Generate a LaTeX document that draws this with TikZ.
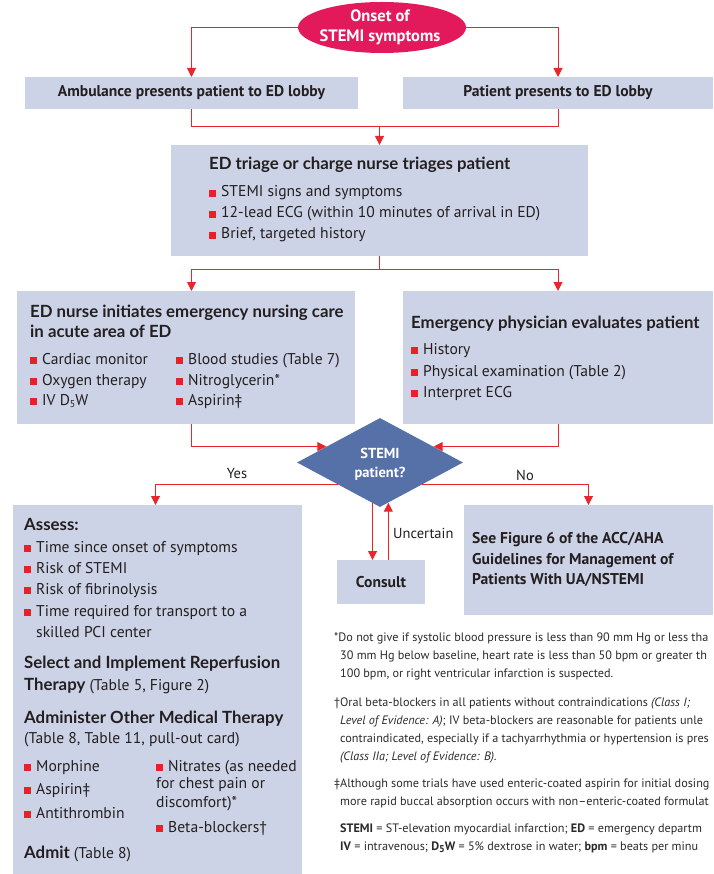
\documentclass[tikz,border=0pt]{standalone}
\usepackage{fontspec}
\setmainfont{PT Sans}
\newfontfamily\headfont{Lato}
\usetikzlibrary{arrows.meta,shapes.geometric,calc,fit}

\definecolor{boxfill}{HTML}{CDD3E6}
\definecolor{linered}{HTML}{E8262D}
\definecolor{bulred}{HTML}{E8202A}
\definecolor{onsetfill}{HTML}{E21A5C}
\definecolor{decidefill}{HTML}{5671A8}
\definecolor{ink}{HTML}{231F20}
\definecolor{noteink}{HTML}{2A2A2A}

% red square bullet
\newcommand\bul{{\color{bulred}\rule{7pt}{7pt}}\hspace{5pt}}
% heavy heading words
\newcommand\hd[1]{{\headfont\fontsize{16.8}{18}\selectfont\bfseries #1}}
% small lowered subscript
\newcommand\lowsub[1]{\raisebox{-2.5pt}{\fontsize{10}{10}\selectfont #1}}
% one line of text, placed on its baseline
\newcommand\putline[4]{\node[txt] (#1) at (#2,#3) {#4};}
\newcommand\putnote[4]{\node[notetxt] (#1) at (#2,#3) {#4};}
% a filled box spanning two corners
\newcommand\putbox[5]{\node[boxstyle,fit={(#2,#3) (#4,#5)}] (#1) {};}

\tikzset{
  boxstyle/.style={fill=boxfill,draw=none,inner sep=0pt,outer sep=0pt},
  txt/.style={anchor=base west,inner sep=0pt,text=ink,font=\fontsize{15.6}{18}\selectfont},
  notetxt/.style={anchor=base west,inner sep=0pt,text=noteink,font=\fontsize{12.2}{15}\selectfont},
  whitetxt/.style={anchor=base,inner sep=0pt,text=white,font=\fontsize{16.5}{18}\selectfont\bfseries},
  conn/.style={draw=linered,line width=1pt},
  arr/.style={conn,-{Triangle[length=9pt,width=9pt]}},
}

\begin{document}
\begin{tikzpicture}[x=1pt,y=-1pt]
\useasboundingbox (0,0) rectangle (713,874);

% start of the pathway
\node[ellipse,fill=onsetfill,draw=none,minimum width=168pt,minimum height=51pt,inner sep=0pt] (onset) at (382,27.5) {};
\node[whitetxt] (onset1) at (380,22) {Onset of};
\node[whitetxt] (onset2) at (380,42) {STEMI symptoms};

% arrival
\putbox{amb}{25}{77}{358}{109}
\putbox{pat}{403}{77}{713}{109}
\node[txt,anchor=base,font=\fontsize{15.6}{18}\selectfont\bfseries] (ambt) at (amb.center |- 0,97) {Ambulance presents patient to ED lobby};
\node[txt,anchor=base,font=\fontsize{15.6}{18}\selectfont\bfseries] (patt) at (558,97) {Patient presents to ED lobby};

% triage
\putbox{triage}{171}{145}{588}{256}
\putline{tr0}{209}{170}{\hd{ED triage or charge nurse triages patient}}
\putline{tr1}{209}{197}{\bul STEMI signs and symptoms}
\putline{tr2}{209}{218}{\bul 12-lead ECG (within 10 minutes of arrival in ED)}
\putline{tr3}{209}{239}{\bul Brief, targeted history}

% nursing care
\putbox{nurse}{17}{291}{355}{424}
\putline{nu0}{30}{317}{\hd{ED nurse initiates emergency nursing care}}
\putline{nu1}{30}{337}{\hd{in acute area of ED}}
\putline{nu2}{30}{364}{\bul Cardiac monitor}
\putline{nu3}{30}{385}{\bul Oxygen therapy}
\putline{nu4}{30}{405}{\bul IV D\lowsub{5}W}
\putline{nu5}{176}{364}{\bul Blood studies (Table 7)}
\putline{nu6}{176}{385}{\bul Nitroglycerin*}
\putline{nu7}{176}{405}{\bul Aspirin‡}

% physician
\putbox{phys}{403}{291}{713}{424}
\putline{ph0}{411}{328}{\hd{Emergency physician evaluates patient}}
\putline{ph1}{411}{354}{\bul History}
\putline{ph2}{411}{376}{\bul Physical examination (Table 2)}
\putline{ph3}{411}{397}{\bul Interpret ECG}

% decision
\node[diamond,fill=decidefill,draw=none,minimum width=166pt,minimum height=89pt,inner sep=0pt] (dia) at (380,462.5) {};
\node[whitetxt,font=\fontsize{14.5}{16}\selectfont\bfseries] (dia1) at (380,458) {STEMI};
\node[whitetxt,font=\fontsize{14.5}{16}\selectfont\bfseries] (dia2) at (380,477) {patient?};

% outcomes
\putbox{assess}{13}{505}{302}{874}
\putbox{consult}{337}{560}{425}{604}
\putbox{see}{464}{505}{713}{615}

\node[txt,anchor=base,font=\fontsize{15.6}{18}\selectfont\bfseries] (cot) at (381,587) {Consult};
\putline{se1}{472}{543}{\bfseries See Figure 6 of the ACC/AHA}
\putline{se2}{472}{564}{\bfseries Guidelines for Management of}
\putline{se3}{472}{584}{\bfseries Patients With UA/NSTEMI}

\putline{as0}{24}{530}{\hd{Assess:}}
\putline{as1}{24}{552}{\bul Time since onset of symptoms}
\putline{as2}{24}{573}{\bul Risk of STEMI}
\putline{as3}{24}{594}{\bul Risk of fibrinolysis}
\putline{as4}{24}{616}{\bul Time required for transport to a}
\putline{as5}{36}{637}{skilled PCI center}
\putline{as6}{24}{668}{\hd{Select and Implement Reperfusion}}
\putline{as7}{24}{690}{\hd{Therapy} (Table 5, Figure 2)}
\putline{as8}{24}{723}{\hd{Administer Other Medical Therapy}}
\putline{as9}{24}{743}{(Table 8, Table 11, pull-out card)}
\putline{as10}{24}{771}{\bul Morphine}
\putline{as11}{24}{794}{\bul Aspirin‡}
\putline{as12}{24}{818}{\bul Antithrombin}
\putline{as13}{156}{771}{\bul Nitrates (as needed}
\putline{as14}{156}{788}{for chest pain or}
\putline{as15}{156}{807}{discomfort)*}
\putline{as16}{156}{832}{\bul Beta-blockers†}
\putline{as17}{24}{858}{\hd{Admit} (Table 8)}

% connectors
\draw[arr] (onset.west) -| (amb.north);
\draw[arr] (onset.east) -| (pat.north);
\coordinate (j1) at (triage.north |- 0,127);
\draw[conn] (amb.south) |- (j1);
\draw[conn] (pat.south) |- (j1);
\draw[arr] (j1) -- (triage.north);
\coordinate (j2) at (triage.south |- 0,270);
\draw[conn] (triage.south) -- (j2);
\draw[arr] (j2) -| (amb.south |- nurse.north);
\draw[arr] (j2) -| (phys.north);
\coordinate (dl) at ($(dia.west)!0.356!(dia.north)$);
\coordinate (dr) at ($(dia.east)!0.356!(dia.north)$);
\draw[arr] (nurse.south -| amb.south) |- (dl);
\draw[arr] (phys.south) |- (dr);
\draw[arr] (dia.south west) -| ([xshift=-2pt]assess.north);
\draw[arr] (dia.south east) -| (see.north);
\coordinate (ud) at ($(dia.south)!0.09!(dia.west)$);
\coordinate (uu) at ($(dia.south)!0.1!(dia.east)$);
\draw[arr] (ud) -- (ud |- consult.north);
\draw[arr] (uu |- consult.north) -- (uu);

\node[txt,anchor=base,font=\fontsize{14.5}{16}\selectfont] (yes) at (237,478) {Yes};
\node[txt,anchor=base,font=\fontsize{14.5}{16}\selectfont] (no) at (525,480) {No};
\node[txt,font=\fontsize{14.5}{16}\selectfont] (unc) at (393,538) {Uncertain};

% footnotes, running off the right edge
\putnote{f1}{334}{641}{*Do not give if systolic blood pressure is less than 90 mm Hg or less tha}
\putnote{f2}{340}{659}{30 mm Hg below baseline, heart rate is less than 50 bpm or greater th}
\putnote{f3}{340}{677}{100 bpm, or right ventricular infarction is suspected.}
\putnote{f4}{334}{706}{†Oral beta-blockers in all patients without contraindications \textit{(Class I;}}
\putnote{f5}{340}{724}{\textit{Level of Evidence: A)}; IV beta-blockers are reasonable for patients unle}
\putnote{f6}{340}{742}{contraindicated, especially if a tachyarrhythmia or hypertension is pres}
\putnote{f7}{340}{760}{\textit{(Class IIa; Level of Evidence: B).}}
\putnote{f8}{334}{787}{‡Although some trials have used enteric-coated aspirin for initial dosing}
\putnote{f9}{340}{805}{more rapid buccal absorption occurs with non–enteric-coated formulat}
\putnote{f10}{340}{832}{\textbf{STEMI} = ST-elevation myocardial infarction; \textbf{ED} = emergency departm}
\putnote{f11}{340}{850}{\textbf{IV} = intravenous; \textbf{D\lowsub{5}W} = 5\% dextrose in water; \textbf{bpm} = beats per minu}
\end{tikzpicture}
\end{document}
